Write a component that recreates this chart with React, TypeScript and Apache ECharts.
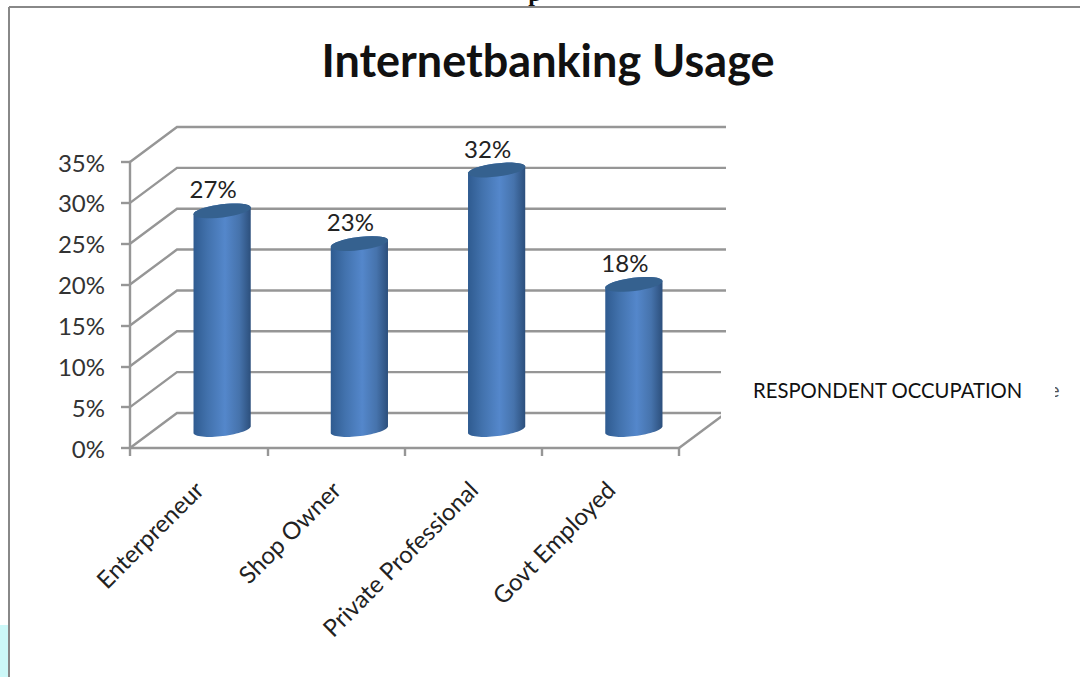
import React, { useEffect, useRef } from "react";
import * as echarts from "echarts";

const categories = ["Enterpreneur", "Shop Owner", "Private Professional", "Govt Employed"];
const usage = [27, 23, 32, 18];
const gridTicks = [0, 5, 10, 15, 20, 25, 30, 35];

const FONT = "Lato, 'Open Sans', sans-serif";
const AXIS_GREY = "#969696";
const DEPTH_X = 47;
const DEPTH_Y = 35;
const TILT = (7 * Math.PI) / 180;
const CAP_STEPS = 32;

// Point on a tilted ellipse; t = 0 is the right tip, t = PI the left tip, t in (0, PI) the front.
function ellipsePoint(cx: number, cy: number, rx: number, ry: number, t: number) {
  const ex = rx * Math.cos(t);
  const ey = ry * Math.sin(t);
  return [cx + ex * Math.cos(TILT) + ey * Math.sin(TILT), cy - ex * Math.sin(TILT) + ey * Math.cos(TILT)];
}

function arcPoints(cx: number, cy: number, rx: number, ry: number, from: number, to: number) {
  const pts: number[][] = [];
  for (let i = 0; i <= CAP_STEPS; i++) {
    pts.push(ellipsePoint(cx, cy, rx, ry, from + ((to - from) * i) / CAP_STEPS));
  }
  return pts;
}

// Back wall and side wall rules of the pseudo-3D plot box.
function renderWall(params: any, api: any) {
  const v = api.value(0);
  const y = api.coord([0, v])[1];
  const sys = params.coordSys;
  const x0 = sys.x;
  const x1 = sys.x + sys.width;
  const children: any[] = [
    {
      type: "polyline",
      shape: {
        points: [
          [x0, y],
          [x0 + DEPTH_X, y - DEPTH_Y],
          [x1 + DEPTH_X, y - DEPTH_Y],
        ],
      },
      style: { stroke: AXIS_GREY, lineWidth: 2.4, fill: "none" },
    },
  ];
  if (v === 0) {
    children.push({
      type: "line",
      shape: { x1: x1, y1: y, x2: x1 + DEPTH_X, y2: y - DEPTH_Y },
      style: { stroke: AXIS_GREY, lineWidth: 2.4 },
    });
  }
  return { type: "group", children };
}

// A cylinder standing halfway into the box depth, with a tilted elliptical cap.
function renderCylinder(params: any, api: any) {
  const idx = api.value(0);
  const val = api.value(1);
  const cx = api.coord([idx, val])[0] + DEPTH_X / 2;
  const top = api.coord([idx, val])[1] - DEPTH_Y / 2 + 1;
  const base = api.coord([idx, 0])[1] - DEPTH_Y / 2 - 1;
  const rx = api.size([1, 0])[0] * 0.21;
  const ry = 6.6;
  const body = [
    ...arcPoints(cx, base, rx, ry, Math.PI, 0),
    ...arcPoints(cx, top, rx, ry, 0, -Math.PI),
  ];
  return {
    type: "group",
    children: [
      {
        type: "polygon",
        shape: { points: body },
        style: {
          fill: {
            type: "linear",
            x: 0,
            y: 0,
            x2: 1,
            y2: 0,
            colorStops: [
              { offset: 0, color: "#2f5b90" },
              { offset: 0.25, color: "#4272ad" },
              { offset: 0.55, color: "#5487cb" },
              { offset: 0.8, color: "#4673ac" },
              { offset: 1, color: "#2c4f7c" },
            ],
          },
        },
      },
      {
        type: "polygon",
        shape: { points: arcPoints(cx, top, rx, ry, 0, Math.PI * 2) },
        style: { fill: "#35618f" },
      },
      {
        type: "text",
        style: {
          x: cx - 9,
          y: top - 22,
          text: `${val}%`,
          fill: "#222",
          font: `24px ${FONT}`,
          align: "center",
          verticalAlign: "middle",
        },
      },
    ],
  };
}

export default function App() {
  const ref = useRef<HTMLDivElement>(null);
  useEffect(() => {
    document.body.style.margin = "0";
    const chart = echarts.init(ref.current!, undefined, { renderer: "svg" });
    chart.setOption({
      animation: false,
      backgroundColor: "#fff",
      grid: { left: 130, top: 162, width: 549, height: 286 },
      xAxis: {
        type: "category",
        data: categories,
        axisLine: { lineStyle: { color: AXIS_GREY, width: 2.4 } },
        axisTick: { show: true, length: 8, lineStyle: { color: AXIS_GREY, width: 2.4 } },
        axisLabel: {
          rotate: 45,
          margin: 37,
          interval: 0,
          fontFamily: FONT,
          fontSize: 24,
          color: "#222",
        },
      },
      yAxis: {
        type: "value",
        min: 0,
        max: 35,
        interval: 5,
        splitLine: { show: false },
        axisLine: { show: true, lineStyle: { color: AXIS_GREY, width: 2.4 } },
        axisTick: { show: true, length: 9, lineStyle: { color: AXIS_GREY, width: 2.4 } },
        axisLabel: {
          margin: 25,
          formatter: "{value}%",
          fontFamily: FONT,
          fontSize: 24,
          color: "#333",
        },
      },
      series: [
        {
          type: "custom",
          z: 1,
          clip: false,
          silent: true,
          data: gridTicks.map((v) => [v]),
          encode: { y: 0 },
          renderItem: renderWall,
        },
        {
          type: "custom",
          z: 3,
          clip: false,
          silent: true,
          data: usage.map((v, i) => [i, v]),
          encode: { x: 0, y: 1 },
          renderItem: renderCylinder,
        },
      ],
      graphic: [
        // page frame and scraps of the surrounding document
        { type: "rect", z: 0, shape: { x: 0, y: 625, width: 8, height: 52 }, style: { fill: "#ccf8f8" } },
        { type: "line", z: 0, shape: { x1: 9, y1: 7, x2: 1080, y2: 7 }, style: { stroke: "#888", lineWidth: 2 } },
        { type: "line", z: 0, shape: { x1: 9, y1: 7, x2: 9, y2: 677 }, style: { stroke: "#888", lineWidth: 2 } },
        {
          type: "text",
          z: 0,
          style: { x: 535, y: -19, text: "p", fill: "#111", font: "bold 24px 'Liberation Serif', serif", align: "center" },
        },
        {
          type: "text",
          z: 5,
          style: {
            x: 548,
            y: 60,
            text: "Internetbanking Usage",
            fill: "#111",
            font: `bold 45px ${FONT}`,
            align: "center",
            verticalAlign: "middle",
          },
        },
        // text box masking the right end of the lower wall rules
        { type: "rect", z: 2, shape: { x: 721, y: 345, width: 330, height: 90 }, style: { fill: "#fff" } },
        {
          type: "text",
          z: 5,
          style: {
            x: 753,
            y: 390,
            text: "RESPONDENT OCCUPATION",
            fill: "#111",
            font: `20.3px ${FONT}`,
            align: "left",
            verticalAlign: "middle",
          },
        },
        {
          type: "text",
          z: 1,
          style: { x: 1049, y: 389, text: "e", fill: "#555", font: `20px ${FONT}`, align: "left", verticalAlign: "middle" },
        },
        { type: "rect", z: 2, shape: { x: 1040, y: 378, width: 15, height: 22 }, style: { fill: "#fff" } },
      ],
    });
    return () => chart.dispose();
  }, []);
  return <div ref={ref} style={{ position: "absolute", left: 0, top: 0, width: 1080, height: 677 }} />;
}
